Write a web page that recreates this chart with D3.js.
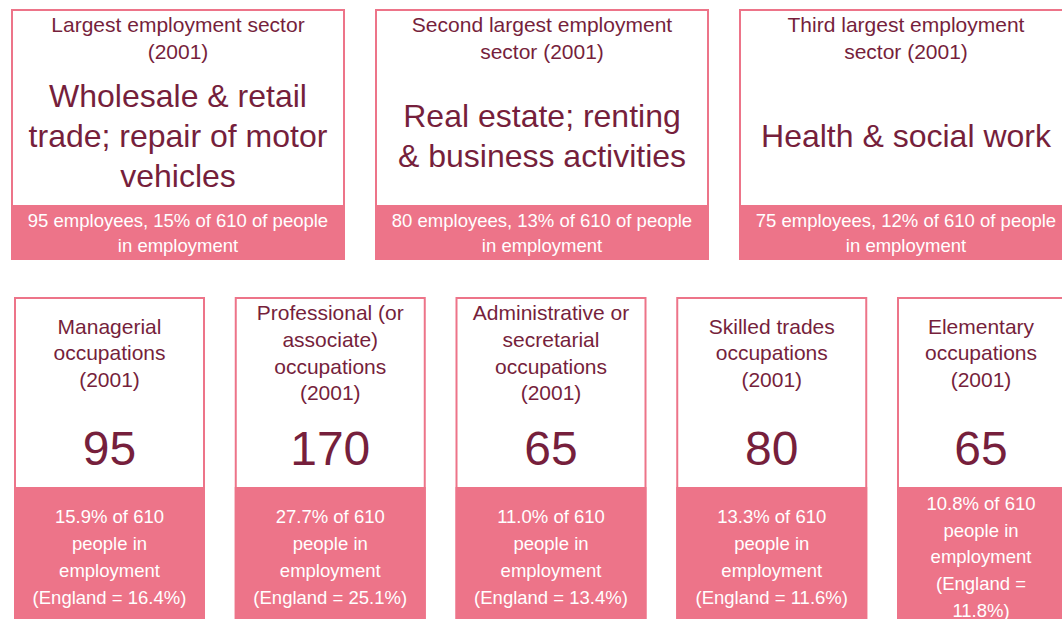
<!DOCTYPE html>
<html>
<head>
<meta charset="utf-8">
<script src="https://cdn.jsdelivr.net/npm/d3@7"></script>
<style>
  html, body { margin: 0; padding: 0; background: #fff; overflow: hidden; }
  svg { display: block; font-family: "Liberation Sans", Arial, sans-serif; }
</style>
</head>
<body>
<div id="chart"></div>
<script>
// Census 2001 employment tiles
var totalEmployed = 610;

var sectorTitles = [
    "Largest employment sector (2001)",
    "Second largest employment sector (2001)",
    "Third largest employment sector (2001)"
];
var sectorNames = [
    "Wholesale & retail trade; repair of motor vehicles",
    "Real estate; renting & business activities",
    "Health & social work"
];
var sectorEmployees = [95, 80, 75];
var sectorPct = [15, 13, 12];

var occTitles = [
    "Managerial occupations (2001)",
    "Professional (or associate) occupations (2001)",
    "Administrative or secretarial occupations (2001)",
    "Skilled trades occupations (2001)",
    "Elementary occupations (2001)"
];
var occCounts = [95, 170, 65, 80, 65];
var occPct = [15.9, 27.7, 11.0, 13.3, 10.8];
var englandPct = [16.4, 25.1, 13.4, 11.6, 11.8];

var W = 1062, H = 619;
var pink = "#ed7489", maroon = "#761f3c";
var fontFamily = "'Liberation Sans', Arial, sans-serif";

var svg = d3.select("#chart").append("svg")
    .attr("width", W)
    .attr("height", H);

// measure text with canvas for word wrapping
var ctx = document.createElement("canvas").getContext("2d");
function wrap(str, size, maxW) {
    ctx.font = size + "px " + fontFamily;
    var words = str.split(" "), lines = [], cur = "";
    words.forEach(function (w) {
        var test = cur ? cur + " " + w : w;
        if (cur && ctx.measureText(test).width > maxW) {
            lines.push(cur);
            cur = w;
        } else {
            cur = test;
        }
    });
    if (cur) lines.push(cur);
    return lines;
}

// draws a block of lines centred on cy
function textBlock(g, lines, cx, cy, size, lh, color) {
    var y0 = cy - (lines.length - 1) * lh / 2;
    g.append("text")
        .attr("text-anchor", "middle")
        .style("font-size", size + "px")
        .style("fill", color)
        .selectAll("tspan")
        .data(lines)
        .enter().append("tspan")
        .attr("x", cx)
        .attr("y", function (d, i) { return y0 + i * lh; })
        .attr("dy", "0.35em")
        .text(function (d) { return d; });
}

// ---- top row: sectors ----
var xTop = d3.scaleBand()
    .domain(d3.range(sectorTitles.length))
    .range([11, 1073])
    .paddingInner(30 / 364);

var topRow = { y0: 9, fillY: 205, y1: 260 };

var topBoxes = svg.selectAll(".sector")
    .data(d3.range(sectorTitles.length))
    .enter().append("g")
    .attr("class", "sector");

topBoxes.each(function (i) {
    var g = d3.select(this);
    var x0 = xTop(i), bw = xTop.bandwidth(), cx = x0 + bw / 2;

    g.append("rect")
        .attr("x", x0 + 1).attr("y", topRow.y0 + 1)
        .attr("width", bw - 2).attr("height", topRow.y1 - topRow.y0 - 2)
        .style("fill", "#fff").style("stroke", pink).style("stroke-width", 2);
    g.append("rect")
        .attr("x", x0).attr("y", topRow.fillY)
        .attr("width", bw).attr("height", topRow.y1 - topRow.fillY)
        .style("fill", pink);

    var tl = wrap(sectorTitles[i], 21, 285);
    textBlock(g, tl, cx, 25 + (tl.length - 1) * 27 / 2, 21, 27, maroon);

    var nl = wrap(sectorNames[i], 32, 300);
    textBlock(g, nl, cx, 136, 32, 40, maroon);

    var fl = wrap(sectorEmployees[i] + " employees, " + sectorPct[i] + "% of " + totalEmployed +
        " of people in employment", 18.5, 312);
    textBlock(g, fl, cx, (topRow.fillY + topRow.y1) / 2 + 1, 18.5, 25, "#fff");
});

// ---- bottom row: occupations ----
var xBot = d3.scaleBand()
    .domain(d3.range(occTitles.length))
    .range([14, 1088])
    .paddingInner(29.75 / 220.75);

var botRow = { y0: 297, fillY: 487, y1: 627 };

var botBoxes = svg.selectAll(".occ")
    .data(d3.range(occTitles.length))
    .enter().append("g")
    .attr("class", "occ");

botBoxes.each(function (i) {
    var g = d3.select(this);
    var x0 = xBot(i);
    var bw = Math.min(xBot.bandwidth(), W + 3 - x0);   // last tile squeezed to page edge
    var cx = x0 + bw / 2;
    var wrapW = bw - 26;

    g.append("rect")
        .attr("x", x0 + 1).attr("y", botRow.y0 + 1)
        .attr("width", bw - 2).attr("height", botRow.y1 - botRow.y0 - 2)
        .style("fill", "#fff").style("stroke", pink).style("stroke-width", 2);
    g.append("rect")
        .attr("x", x0).attr("y", botRow.fillY)
        .attr("width", bw).attr("height", botRow.y1 - botRow.fillY)
        .style("fill", pink);

    textBlock(g, wrap(occTitles[i], 21, wrapW), cx, 353, 21, 26.7, maroon);

    g.append("text")
        .attr("x", cx).attr("y", 448).attr("dy", "0.35em")
        .attr("text-anchor", "middle")
        .style("font-size", "48px")
        .style("fill", maroon)
        .text(occCounts[i]);

    var fl = wrap(occPct[i].toFixed(1) + "% of " + totalEmployed + " people in employment (England = " +
        englandPct[i].toFixed(1) + "%)", 18.5, Math.min(wrapW, 162));
    textBlock(g, fl, cx, 557, 18.5, 26.7, "#fff");
});
</script>
</body>
</html>
